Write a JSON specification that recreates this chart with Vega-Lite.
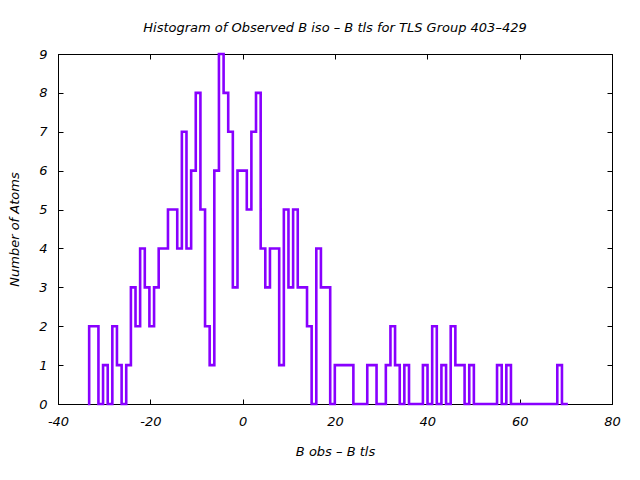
{
  "$schema": "https://vega.github.io/schema/vega-lite/v6.json",
  "width": 554,
  "height": 350,
  "autosize": {"type": "none"},
  "padding": {"left": 58, "top": 54, "right": 28, "bottom": 76},
  "background": "white",
  "config": {
    "view": {"stroke": "black", "strokeWidth": 1},
    "font": "DejaVu Sans",
    "axis": {
      "grid": false,
      "domainColor": "black",
      "domainWidth": 1,
      "tickColor": "black",
      "tickWidth": 1,
      "tickSize": -5,
      "labelPadding": 16,
      "labelFlush": false,
      "labelFont": "DejaVu Sans",
      "labelFontStyle": "italic",
      "labelFontSize": 13,
      "labelColor": "black",
      "titleFont": "DejaVu Sans",
      "titleFontStyle": "italic",
      "titleFontWeight": "normal",
      "titleFontSize": 13,
      "titleColor": "black",
      "titlePadding": 17
    }
  },
  "title": {
    "text": "Histogram of Observed B iso – B tls for TLS Group 403–429",
    "font": "DejaVu Sans",
    "fontStyle": "italic",
    "fontWeight": "normal",
    "fontSize": 13,
    "color": "black",
    "anchor": "middle",
    "baseline": "alphabetic",
    "offset": 3
  },
  "data": {
    "values": [
      {"i": -1, "edge": -33.25, "count": 0},
      {"i": 0, "edge": -33.25, "count": 2},
      {"i": 1, "edge": -32.25, "count": 2},
      {"i": 2, "edge": -31.24, "count": 0},
      {"i": 3, "edge": -30.24, "count": 1},
      {"i": 4, "edge": -29.23, "count": 0},
      {"i": 5, "edge": -28.23, "count": 2},
      {"i": 6, "edge": -27.23, "count": 1},
      {"i": 7, "edge": -26.22, "count": 0},
      {"i": 8, "edge": -25.22, "count": 1},
      {"i": 9, "edge": -24.21, "count": 3},
      {"i": 10, "edge": -23.21, "count": 2},
      {"i": 11, "edge": -22.21, "count": 4},
      {"i": 12, "edge": -21.2, "count": 3},
      {"i": 13, "edge": -20.2, "count": 2},
      {"i": 14, "edge": -19.19, "count": 3},
      {"i": 15, "edge": -18.19, "count": 4},
      {"i": 16, "edge": -17.19, "count": 4},
      {"i": 17, "edge": -16.18, "count": 5},
      {"i": 18, "edge": -15.18, "count": 5},
      {"i": 19, "edge": -14.17, "count": 4},
      {"i": 20, "edge": -13.17, "count": 7},
      {"i": 21, "edge": -12.17, "count": 4},
      {"i": 22, "edge": -11.16, "count": 6},
      {"i": 23, "edge": -10.16, "count": 8},
      {"i": 24, "edge": -9.15, "count": 5},
      {"i": 25, "edge": -8.15, "count": 2},
      {"i": 26, "edge": -7.15, "count": 1},
      {"i": 27, "edge": -6.14, "count": 6},
      {"i": 28, "edge": -5.14, "count": 9},
      {"i": 29, "edge": -4.13, "count": 8},
      {"i": 30, "edge": -3.13, "count": 7},
      {"i": 31, "edge": -2.13, "count": 3},
      {"i": 32, "edge": -1.12, "count": 6},
      {"i": 33, "edge": -0.12, "count": 6},
      {"i": 34, "edge": 0.89, "count": 5},
      {"i": 35, "edge": 1.89, "count": 7},
      {"i": 36, "edge": 2.89, "count": 8},
      {"i": 37, "edge": 3.9, "count": 4},
      {"i": 38, "edge": 4.9, "count": 3},
      {"i": 39, "edge": 5.91, "count": 4},
      {"i": 40, "edge": 6.91, "count": 4},
      {"i": 41, "edge": 7.91, "count": 1},
      {"i": 42, "edge": 8.92, "count": 5},
      {"i": 43, "edge": 9.92, "count": 3},
      {"i": 44, "edge": 10.93, "count": 5},
      {"i": 45, "edge": 11.93, "count": 3},
      {"i": 46, "edge": 12.93, "count": 3},
      {"i": 47, "edge": 13.94, "count": 2},
      {"i": 48, "edge": 14.94, "count": 0},
      {"i": 49, "edge": 15.95, "count": 4},
      {"i": 50, "edge": 16.95, "count": 3},
      {"i": 51, "edge": 17.95, "count": 3},
      {"i": 52, "edge": 18.96, "count": 0},
      {"i": 53, "edge": 19.96, "count": 1},
      {"i": 54, "edge": 20.97, "count": 1},
      {"i": 55, "edge": 21.97, "count": 1},
      {"i": 56, "edge": 22.97, "count": 1},
      {"i": 57, "edge": 23.98, "count": 0},
      {"i": 58, "edge": 24.98, "count": 0},
      {"i": 59, "edge": 25.99, "count": 0},
      {"i": 60, "edge": 26.99, "count": 1},
      {"i": 61, "edge": 27.99, "count": 1},
      {"i": 62, "edge": 29.0, "count": 0},
      {"i": 63, "edge": 30.0, "count": 0},
      {"i": 64, "edge": 31.01, "count": 1},
      {"i": 65, "edge": 32.01, "count": 2},
      {"i": 66, "edge": 33.01, "count": 1},
      {"i": 67, "edge": 34.02, "count": 0},
      {"i": 68, "edge": 35.02, "count": 1},
      {"i": 69, "edge": 36.03, "count": 0},
      {"i": 70, "edge": 37.03, "count": 0},
      {"i": 71, "edge": 38.03, "count": 0},
      {"i": 72, "edge": 39.04, "count": 1},
      {"i": 73, "edge": 40.04, "count": 0},
      {"i": 74, "edge": 41.05, "count": 2},
      {"i": 75, "edge": 42.05, "count": 0},
      {"i": 76, "edge": 43.05, "count": 1},
      {"i": 77, "edge": 44.06, "count": 0},
      {"i": 78, "edge": 45.06, "count": 2},
      {"i": 79, "edge": 46.07, "count": 1},
      {"i": 80, "edge": 47.07, "count": 1},
      {"i": 81, "edge": 48.07, "count": 0},
      {"i": 82, "edge": 49.08, "count": 1},
      {"i": 83, "edge": 50.08, "count": 0},
      {"i": 84, "edge": 51.09, "count": 0},
      {"i": 85, "edge": 52.09, "count": 0},
      {"i": 86, "edge": 53.09, "count": 0},
      {"i": 87, "edge": 54.1, "count": 0},
      {"i": 88, "edge": 55.1, "count": 1},
      {"i": 89, "edge": 56.11, "count": 0},
      {"i": 90, "edge": 57.11, "count": 1},
      {"i": 91, "edge": 58.11, "count": 0},
      {"i": 92, "edge": 59.12, "count": 0},
      {"i": 93, "edge": 60.12, "count": 0},
      {"i": 94, "edge": 61.13, "count": 0},
      {"i": 95, "edge": 62.13, "count": 0},
      {"i": 96, "edge": 63.13, "count": 0},
      {"i": 97, "edge": 64.14, "count": 0},
      {"i": 98, "edge": 65.14, "count": 0},
      {"i": 99, "edge": 66.15, "count": 0},
      {"i": 100, "edge": 67.15, "count": 0},
      {"i": 101, "edge": 68.15, "count": 1},
      {"i": 102, "edge": 69.16, "count": 0},
      {"i": 103, "edge": 70.16, "count": 0}
    ]
  },
  "layer": [
    {
      "mark": {"type": "line", "interpolate": "step-after", "color": "#8800ff", "strokeWidth": 2.6, "strokeJoin": "miter", "strokeCap": "square"},
      "encoding": {
        "x": {
          "field": "edge",
          "type": "quantitative",
          "scale": {"domain": [-40, 80], "nice": false, "zero": false},
          "axis": {
            "orient": "bottom",
            "values": [-40, -20, 0, 20, 40, 60, 80],
            "labelExpr": "datum.value < 0 ? '-' + abs(datum.value) : '' + datum.value",
            "title": "B obs – B tls"
          }
        },
        "y": {
          "field": "count",
          "type": "quantitative",
          "scale": {"domain": [0, 9], "nice": false},
          "axis": {
            "orient": "left",
            "values": [0, 1, 2, 3, 4, 5, 6, 7, 8, 9],
            "title": "Number of Atoms"
          }
        },
        "order": {"field": "i", "type": "quantitative"}
      }
    },
    {
      "mark": {"type": "line", "opacity": 0},
      "encoding": {
        "x": {
          "field": "edge",
          "type": "quantitative",
          "axis": {"orient": "top", "values": [-40, -20, 0, 20, 40, 60, 80], "labels": false, "title": null}
        },
        "y": {
          "field": "count",
          "type": "quantitative",
          "axis": {"orient": "right", "values": [0, 1, 2, 3, 4, 5, 6, 7, 8, 9], "labels": false, "title": null}
        },
        "order": {"field": "i", "type": "quantitative"}
      }
    }
  ],
  "resolve": {"axis": {"x": "independent", "y": "independent"}}
}
